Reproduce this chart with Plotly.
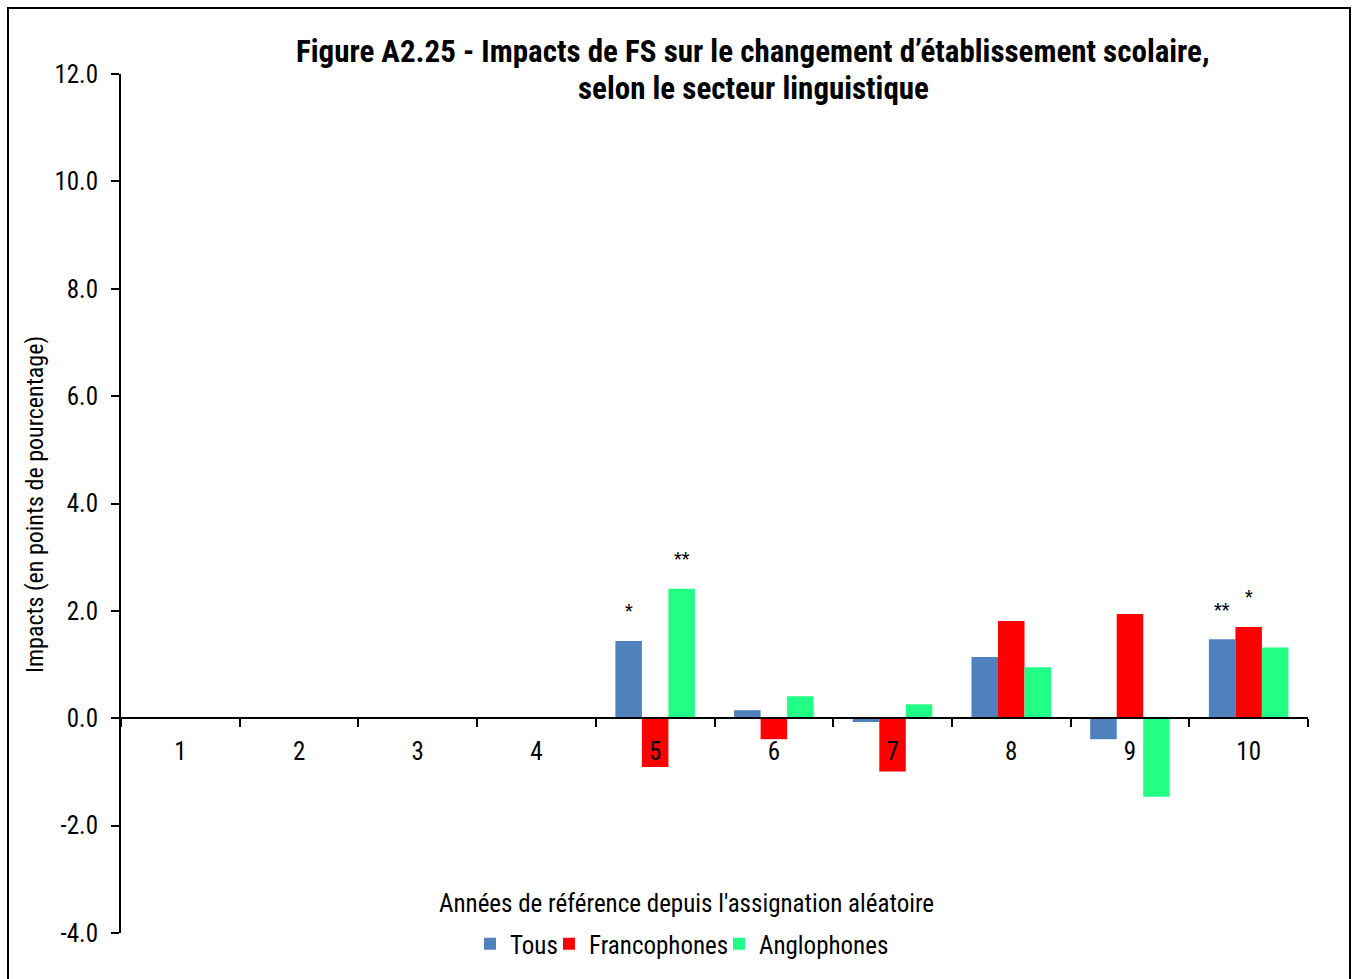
import plotly.graph_objects as go

years = ["1", "2", "3", "4", "5", "6", "7", "8", "9", "10"]
tous = [None, None, None, None, 1.44, 0.15, -0.07, 1.14, -0.39, 1.47]
franco = [None, None, None, None, -0.91, -0.39, -0.99, 1.81, 1.94, 1.70]
anglo = [None, None, None, None, 2.41, 0.41, 0.26, 0.95, -1.46, 1.32]
sig_tous = ["", "", "", "", "*", "", "", "", "", "**"]
sig_franco = ["", "", "", "", "", "", "", "", "", "*"]
sig_anglo = ["", "", "", "", "**", "", "", "", "", ""]

ytick_vals = [-4, -2, 0, 2, 4, 6, 8, 10, 12]
ytick_text = ["-4.0", "-2.0", "0.0", "2.0", "4.0", "6.0", "8.0", "10.0", "12.0"]

FONT = "Liberation Sans Narrow, Arial Narrow, Roboto Condensed, Liberation Sans, sans-serif"

W, H = 1352, 979
ML, MT = 121, 74
MR = W - 1308
MB = H - 933
PW, PH = W - ML - MR, H - MT - MB

def px_to_paper_x(px):
    return (px - ML) / PW

def px_to_paper_y(py):
    return (H - MB - py) / PH

fig = go.Figure()
series = [("Tous", tous, "#4F81BD", sig_tous, "legend", 470),
          ("Francophones", franco, "#FF0000", sig_franco, "legend2", 549),
          ("Anglophones", anglo, "#22FF85", sig_anglo, "legend3", 719)]
for name, vals, col, _, lg, _ in series:
    fig.add_trace(go.Bar(x=years, y=vals, name=name, marker_color=col,
                         marker_line_width=0, legend=lg))

bargap = 0.33
bar_w = PW / len(years) * (1 - bargap) / 3
for i, (name, vals, col, sig, _, _) in enumerate(series):
    for k, (v, s) in enumerate(zip(vals, sig)):
        if s:
            fig.add_annotation(x=k, y=v, xref="x", yref="y", text=s,
                               showarrow=False, xshift=(i - 1) * bar_w,
                               yshift=30, font=dict(size=18, color="black", family=FONT))

legend_layout = {}
for name, vals, col, sig, lg, lx in series:
    legend_layout[lg] = dict(orientation="h", x=px_to_paper_x(lx), xanchor="left",
                             y=px_to_paper_y(944), yanchor="middle",
                             font=dict(size=25, family=FONT), itemwidth=30,
                             bgcolor="rgba(0,0,0,0)", borderwidth=0)

fig.update_layout(
    width=W, height=H,
    margin=dict(l=ML, r=MR, t=MT, b=MB, autoexpand=False),
    paper_bgcolor="white", plot_bgcolor="white",
    font=dict(family=FONT, size=25, color="black"),
    barmode="group", bargap=bargap, bargroupgap=0,
    showlegend=True,
    xaxis=dict(type="category", anchor="free", position=0.25,
               range=[-0.5, len(years) - 0.5],
               showline=True, linecolor="black", linewidth=2,
               ticks="outside", tickson="boundaries", ticklen=8, tickwidth=2,
               tickcolor="black", showgrid=False, zeroline=False,
               ticklabelstandoff=11, tickfont=dict(size=25, family=FONT)),
    yaxis=dict(range=[-4, 12], tickvals=ytick_vals, ticktext=ytick_text,
               showline=True, linecolor="black", linewidth=2,
               ticks="outside", ticklen=8, tickwidth=2, tickcolor="black",
               showgrid=False, zeroline=False, ticklabelstandoff=8,
               tickfont=dict(size=25, family=FONT)),
    **legend_layout,
)

fig.add_annotation(text="<b>Figure A2.25 - Impacts de FS sur le changement d\u2019établissement scolaire,</b>",
                   xref="paper", yref="paper", x=px_to_paper_x(753), y=px_to_paper_y(52),
                   xanchor="center", yanchor="middle", showarrow=False,
                   font=dict(size=31, family=FONT, color="black"))
fig.add_annotation(text="<b>selon le secteur linguistique</b>",
                   xref="paper", yref="paper", x=px_to_paper_x(753), y=px_to_paper_y(88),
                   xanchor="center", yanchor="middle", showarrow=False,
                   font=dict(size=31, family=FONT, color="black"))
fig.add_annotation(text="Années de référence depuis l'assignation aléatoire",
                   xref="paper", yref="paper", x=px_to_paper_x(686), y=px_to_paper_y(903),
                   xanchor="center", yanchor="middle", showarrow=False,
                   font=dict(size=25, family=FONT, color="black"))
fig.add_annotation(text="Impacts (en points de pourcentage)", textangle=-90,
                   xref="paper", yref="paper", x=px_to_paper_x(35), y=px_to_paper_y(505),
                   xanchor="center", yanchor="middle", showarrow=False,
                   font=dict(size=24, family=FONT, color="black"))

fig.add_shape(type="rect", xref="paper", yref="paper",
              x0=px_to_paper_x(8), x1=px_to_paper_x(1350),
              y0=px_to_paper_y(995), y1=px_to_paper_y(8),
              line=dict(color="black", width=2), fillcolor="rgba(0,0,0,0)", layer="below")

fig.write_html("out.html", config={"displayModeBar": False},
               post_script="document.body.style.margin='0';document.body.style.overflow='hidden';")
